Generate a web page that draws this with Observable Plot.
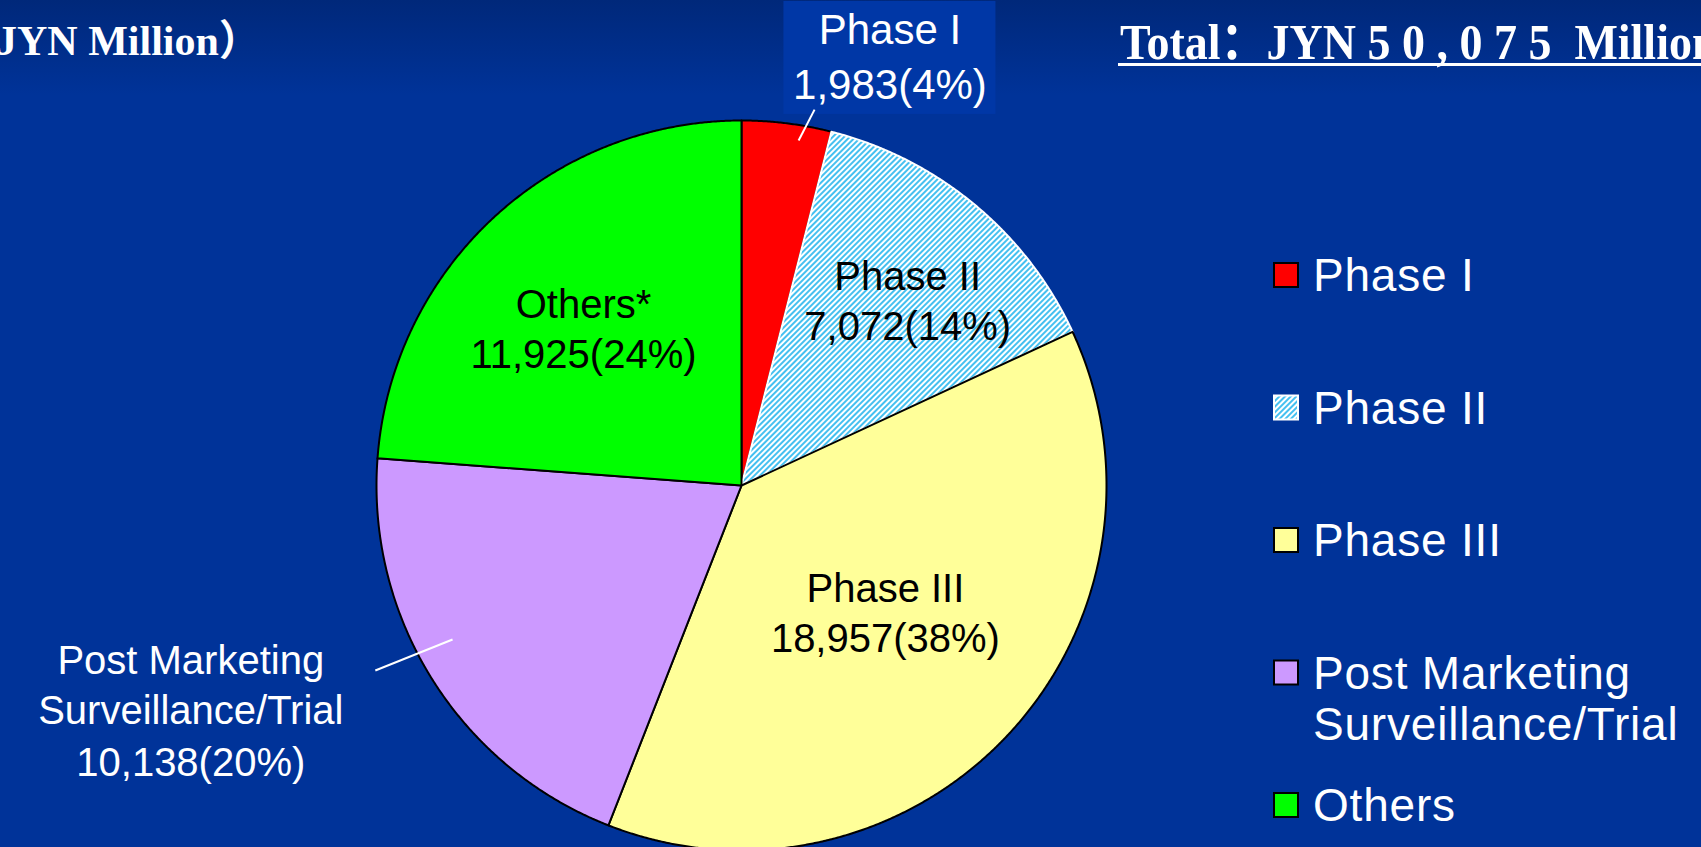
<!DOCTYPE html>
<html>
<head>
<meta charset="utf-8">
<script src="https://cdn.jsdelivr.net/npm/d3@7"></script>
<script src="https://cdn.jsdelivr.net/npm/@observablehq/plot@0.6"></script>
<style>
  html, body { margin: 0; padding: 0; width: 1701px; height: 847px; overflow: hidden;
    background: linear-gradient(to bottom, #00287a 0px, #003399 95px, #003399 100%); }
  #chart { position: relative; width: 1701px; height: 847px; }
</style>
</head>
<body>
<div id="chart"></div>
<script>
// ---------------- data ----------------
const categories = ["Phase I", "Phase II", "Phase III", "Post Marketing Surveillance/Trial", "Others"];
const values = [1983, 7072, 18957, 10138, 11925];
const sliceLabels = ["Phase I", "Phase II", "Phase III", "Post Marketing\nSurveillance/Trial", "Others*"];
const legendLabels = ["Phase I", "Phase II", "Phase III", "Post Marketing\nSurveillance/Trial", "Others"];
const unitLabel = "（JYN Million）";
const totalPrefix = "Total：JYN ";
const totalSuffix = "  Million";

// ---------------- styles ----------------
const fills = ["#ff0000", "url(#hatch)", "#ffff99", "#cc99ff", "#00ff00"];
const outlines = ["#000000", "#ffffff", "#000000", "#000000", "#000000"];
const SANS = "'Liberation Sans', Arial, sans-serif";
const SERIF = "'Liberation Serif', 'Times New Roman', 'Noto Sans CJK SC', serif";

// ---------------- layout ----------------
const W = 1701, H = 847, CX = 741, CY = 485, R = 365;
// label anchor in polar form: angle (deg clockwise from 12 o'clock), radius (x pie radius)
const labelLayout = {
  "Phase I": {a: 18.6, r: 1.275, outside: true, gap: 55, size: 42, box: [106, 43, 70]},
  "Phase II": {a: 40.4, r: 0.7025, gap: 50, size: 40},
  "Phase III": {a: 129.1, r: 0.508, gap: 50, size: 40},
  "Post Marketing Surveillance/Trial": {a: 246.6, r: 1.644, outside: true, gap: 52, size: 40},
  "Others": {a: 316.6, r: 0.630, gap: 50, size: 40}
};
const leaderLayout = {
  "Phase I": [[9.4, 0.958], [11.0, 1.049]],
  "Post Marketing Surveillance/Trial": [[241.95, 0.897], [243.2, 1.124]]
};

// ---------------- derived ----------------
const deg = Math.PI / 180;
const polar = (a, r) => ({x: r * Math.sin(a), y: r * Math.cos(a)});
const rows = categories.map((category, i) => ({category, value: values[i], name: sliceLabels[i], legend: legendLabels[i]}));
const total = d3.sum(values);
const arcs = d3.pie().sort(null).value(d => d.value)(rows);

const slicePoints = arcs.flatMap(arc => {
  const c = arc.data.category;
  const n = Math.max(2, Math.ceil((arc.endAngle - arc.startAngle) / (0.25 * deg)));
  const pts = [{category: c, x: 0, y: 0}];
  for (let k = 0; k <= n; k++) {
    const a = arc.startAngle + (arc.endAngle - arc.startAngle) * k / n;
    pts.push({category: c, ...polar(a, 1)});
  }
  pts.push({category: c, x: 0, y: 0});
  return pts;
});

const fmt = d3.format(",");
const labelRows = arcs.map(arc => {
  const d = arc.data;
  const L = labelLayout[d.category];
  const p = polar(L.a * deg, L.r);
  const row = {
    category: d.category, name: d.name, size: L.size,
    valueText: `${fmt(d.value)}(${Math.round(d.value / total * 100)}%)`,
    x: p.x, y: p.y, yValue: p.y - L.gap / R, outside: !!L.outside
  };
  if (L.box) {
    row.box = true;
    row.bx1 = p.x - L.box[0] / R; row.bx2 = p.x + L.box[0] / R;
    row.by1 = p.y + L.box[1] / R; row.by2 = p.y - L.box[2] / R;
  }
  return row;
});

const leaders = Object.entries(leaderLayout).map(([category, [[a1, r1], [a2, r2]]]) => {
  const p1 = polar(a1 * deg, r1), p2 = polar(a2 * deg, r2);
  return {category, x1: p1.x, y1: p1.y, x2: p2.x, y2: p2.y};
});

const textCommon = {fontSize: "size", lineAnchor: "bottom", lineHeight: 1.25, textAnchor: "middle"};

const plot = Plot.plot({
  width: W, height: H,
  marginTop: 0, marginRight: 0, marginBottom: 0, marginLeft: 0,
  x: {domain: [-CX / R, (W - CX) / R], axis: null},
  y: {domain: [-(H - CY) / R, CY / R], axis: null},
  color: {domain: categories, range: fills},
  style: {background: "transparent", fontFamily: SANS, overflow: "visible"},
  marks: [
    Plot.rect(labelRows.filter(d => d.box), {x1: "bx1", x2: "bx2", y1: "by1", y2: "by2", fill: "#0037a6"}),
    ...categories.map((c, i) => Plot.line(slicePoints.filter(d => d.category === c), {
      x: "x", y: "y", z: "category", fill: "category",
      stroke: outlines[i], strokeWidth: 2, strokeLinejoin: "round"
    })),
    Plot.link(leaders, {x1: "x1", y1: "y1", x2: "x2", y2: "y2", stroke: "white", strokeWidth: 2}),
    Plot.text(labelRows.filter(d => !d.outside), {x: "x", y: "y", text: "name", fill: "black", ariaLabel: "inner-names", ...textCommon}),
    Plot.text(labelRows.filter(d => !d.outside), {x: "x", y: "yValue", text: "valueText", fill: "black", ...textCommon}),
    Plot.text(labelRows.filter(d => d.outside), {x: "x", y: "y", text: "name", fill: "white", ariaLabel: "outer-names", ...textCommon}),
    Plot.text(labelRows.filter(d => d.outside), {x: "x", y: "yValue", text: "valueText", fill: "white", ...textCommon})
  ]
});

const svg = d3.select(plot);
svg.selectAll('g[aria-label="inner-names"] text').attr("letter-spacing", 2);
svg.selectAll('g[aria-label="outer-names"] text').attr("letter-spacing", 2.2);

// hatch pattern for Phase II
const defs = svg.insert("defs", ":first-child");
const pat = defs.append("pattern").attr("id", "hatch").attr("patternUnits", "userSpaceOnUse")
  .attr("width", 4).attr("height", 4).attr("patternTransform", "rotate(45)");
pat.append("rect").attr("width", 4).attr("height", 4).attr("fill", "#ffffff");
pat.append("rect").attr("width", 2).attr("height", 4).attr("fill", "#45c0f0");

// titles
svg.append("text").attr("x", -46).attr("y", 55).attr("text-anchor", "start")
  .attr("font-family", SERIF).attr("font-weight", "bold").attr("font-size", 42).attr("fill", "white")
  .text(unitLabel);
const totalText = totalPrefix + fmt(total).split("").join(" ") + totalSuffix;
svg.append("text").attr("transform", "translate(1120,59) scale(1,1.12)").attr("text-anchor", "start")
  .attr("font-family", SERIF).attr("font-weight", "bold").attr("font-size", 46).attr("fill", "white")
  .attr("xml:space", "preserve").style("white-space", "pre")
  .text(totalText);
svg.append("rect").attr("x", 1118).attr("y", 63).attr("width", 700).attr("height", 3).attr("fill", "white");

// legend
const lg = svg.append("g").attr("font-family", SANS).attr("font-size", 46).attr("fill", "white")
  .attr("text-anchor", "start").attr("letter-spacing", 0.8);
rows.forEach((d, i) => {
  const top = 262 + i * 132.5;
  lg.append("rect").attr("x", 1274).attr("y", top + 1).attr("width", 24).attr("height", 24)
    .attr("fill", fills[i]).attr("stroke", outlines[i]).attr("stroke-width", 2);
  const t = lg.append("text").attr("x", 1313).attr("y", top + 29);
  d.legend.split("\n").forEach((line, k) => t.append("tspan").attr("x", 1313).attr("dy", k ? 51 : 0).text(line));
});

document.getElementById("chart").appendChild(plot);
</script>
</body>
</html>
